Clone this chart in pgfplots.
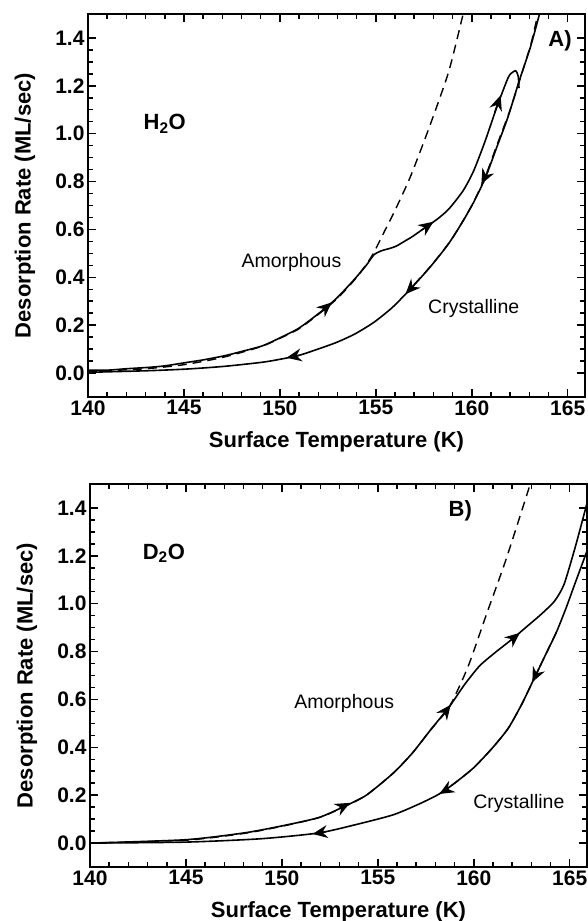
\documentclass[border=0pt]{standalone}
\usepackage{fontspec}
\setmainfont{Liberation Sans}
\usepackage{pgfplots}
\pgfplotsset{compat=1.18}
\usetikzlibrary{arrows.meta}

\newcommand{\tickfont}{\fontsize{21}{23}\selectfont\bfseries}
\newcommand{\labfont}{\fontsize{22}{24}\selectfont\bfseries}
\newcommand{\txtfont}{\fontsize{19.5}{21}\selectfont}

\pgfplotsset{
  panel/.style={
    scale only axis, width=497pt, height=383pt,
    xmin=140, xmax=165.9, ymin=-0.1, ymax=1.5,
    xtick={140,145,...,165}, minor x tick num=4,
    ytick={0,0.2,0.4,0.6,0.8,1.0,1.2,1.4}, minor y tick num=3,
    tick align=inside, tick pos=both, ticklabel pos=left,
    major tick length=8pt, minor tick length=5pt,
    every tick/.style={line width=1.5pt, black},
    axis line style={line width=2pt},
    ticklabel style={font=\tickfont},
    /pgf/number format/assume math mode=true,
    yticklabel style={/pgf/number format/fixed, /pgf/number format/fixed zerofill, /pgf/number format/precision=1},
    label style={font=\labfont},
    xlabel={Surface Temperature (K)},
    ylabel={Desorption Rate (ML/sec)},
    xlabel style={at={(axis description cs:0.5,-0.1175)}, anchor=center},
    ylabel style={at={(axis description cs:-0.127,0.5)}, anchor=center},
  },
  curve/.style={line width=1.6pt, black, no marks, smooth, tension=0.4},
  fit/.style={line width=1.4pt, black, no marks, smooth, tension=0.4, dash pattern=on 9pt off 6pt},
  arr/.style={line width=1.5pt, black, no marks, -{Stealth[length=15pt,width=13pt,inset=5pt]}},
}

\begin{document}
\begin{tikzpicture}[x=1pt,y=1pt]
\useasboundingbox (0,0) rectangle (587,921);

% ---- A) H2O
\begin{axis}[panel, at={(88pt,524pt)}, anchor=south west]
% fits
\addplot[fit] coordinates {(140,0.006) (143,0.018) (145,0.035) (147,0.065) (149,0.11) (150,0.145)
  (151,0.185) (152,0.245) (153,0.312) (154,0.40) (154.8,0.49) (155.5,0.60) (156,0.68)
  (156.8,0.82) (157.8,1.03) (158.8,1.26) (159.55,1.5) (159.8,1.58)};
\addplot[fit] coordinates {(157,0.37) (158,0.46) (159,0.565) (160,0.70) (160.7,0.82) (161.3,0.95)
  (162,1.10) (162.6,1.25) (163.1,1.38) (163.5,1.52)};
% amorphous (heating)
\addplot[curve] coordinates {(140.0,0.012) (141,0.012) (142,0.018) (143.2,0.024) (144,0.03)
  (145.2,0.045) (146,0.055) (147.1,0.072) (148,0.09) (149.1,0.114) (150,0.147) (151,0.188)
  (152.2,0.26) (153,0.316) (153.9,0.393) (154.5,0.45) (154.9,0.494) (155.3,0.511)
  (155.7,0.52) (156.06,0.53) (156.4,0.546) (156.9,0.57) (157.4,0.598) (158.2,0.643)
  (158.8,0.685) (159.55,0.762) (160.1,0.845) (160.7,0.97) (161.3,1.11) (161.9,1.235)
  (162.15,1.258) (162.3,1.262) (162.42,1.24) (162.46,1.19)};
% crystalline (cooling)
\addplot[curve] coordinates {(140.0,0.003) (143.2,0.01) (145.2,0.017) (147.1,0.028) (149.07,0.045)
  (150.04,0.058) (151.0,0.074) (151.98,0.10) (152.95,0.128) (153.9,0.163) (154.9,0.212)
  (155.86,0.274) (156.8,0.351) (157.8,0.44) (158.78,0.539) (159.55,0.636) (160.14,0.72)
  (160.72,0.818) (161.3,0.943) (161.88,1.068) (162.47,1.22) (163.05,1.36) (163.53,1.5) (163.8,1.58)};
% direction arrows
\addplot[arr] coordinates {(152.2,0.26) (152.7,0.295)};
\addplot[arr] coordinates {(157.4,0.598) (158.0,0.632)};
\addplot[arr] coordinates {(161.2,1.09) (161.5,1.16)};
\addplot[arr] coordinates {(160.85,0.845) (160.5,0.79)};
\addplot[arr] coordinates {(157.0,0.368) (156.55,0.33)};
\addplot[arr] coordinates {(151.0,0.074) (150.35,0.064)};
\node[font=\labfont] at (axis cs:144.0,1.04) {H\textsubscript{2}O};
\node[font=\labfont] at (axis cs:164.6,1.39) {A)};
\node[font=\txtfont] at (axis cs:150.6,0.46) {Amorphous};
\node[font=\txtfont] at (axis cs:160.1,0.27) {Crystalline};
\end{axis}

% ---- B) D2O
\begin{axis}[panel, at={(90pt,54pt)}, anchor=south west]
\addplot[fit] coordinates {(140,0.0) (145,0.012) (148,0.04) (150,0.07) (152,0.108) (153.25,0.152)
  (154.4,0.2) (155.8,0.292) (156.8,0.376) (157.75,0.473) (158.73,0.57) (159.7,0.737)
  (160.68,0.96) (161.66,1.18) (162.84,1.474) (163,1.52)};
\addplot[fit] coordinates {(158.2,0.205) (159.0,0.25) (160.0,0.315) (161.0,0.40) (161.8,0.48)
  (162.5,0.58) (163.1,0.68) (163.7,0.78) (164.3,0.88)};
% amorphous (heating)
\addplot[curve] coordinates {(140.1,0.0) (145.0,0.014) (148.0,0.042) (149.9,0.07) (151.9,0.106)
  (153.25,0.153) (154.4,0.2) (155.8,0.292) (156.8,0.376) (157.75,0.473) (158.73,0.57)
  (159.5,0.66) (160.3,0.74) (161.1,0.795) (162.0,0.852) (162.7,0.9) (163.5,0.955)
  (164.2,1.01) (164.7,1.08) (165.3,1.24) (165.9,1.42)};
% crystalline (cooling)
\addplot[curve] coordinates {(165.9,1.22) (165.3,1.09) (164.8,0.98) (164.3,0.88) (163.7,0.78)
  (163.1,0.68) (162.5,0.58) (161.8,0.48) (161.0,0.40) (160.0,0.315) (159.0,0.25) (158.2,0.205)
  (157.2,0.165) (155.8,0.118) (153.8,0.076) (151.9,0.042) (148.9,0.018) (145.0,0.004) (140.0,0.0)};
% direction arrows
\addplot[arr] coordinates {(153.0,0.145) (153.55,0.168)};
\addplot[arr] coordinates {(158.3,0.525) (158.8,0.578)};
\addplot[arr] coordinates {(161.9,0.845) (162.4,0.878)};
\addplot[arr] coordinates {(163.4,0.73) (163.05,0.672)};
\addplot[arr] coordinates {(158.7,0.228) (158.2,0.205)};
\addplot[arr] coordinates {(152.3,0.047) (151.6,0.038)};
\node[font=\labfont] at (axis cs:143.85,1.21) {D\textsubscript{2}O};
\node[font=\labfont] at (axis cs:159.3,1.39) {B)};
\node[font=\txtfont] at (axis cs:153.25,0.584) {Amorphous};
\node[font=\txtfont] at (axis cs:162.35,0.167) {Crystalline};
\end{axis}
\end{tikzpicture}
\end{document}
